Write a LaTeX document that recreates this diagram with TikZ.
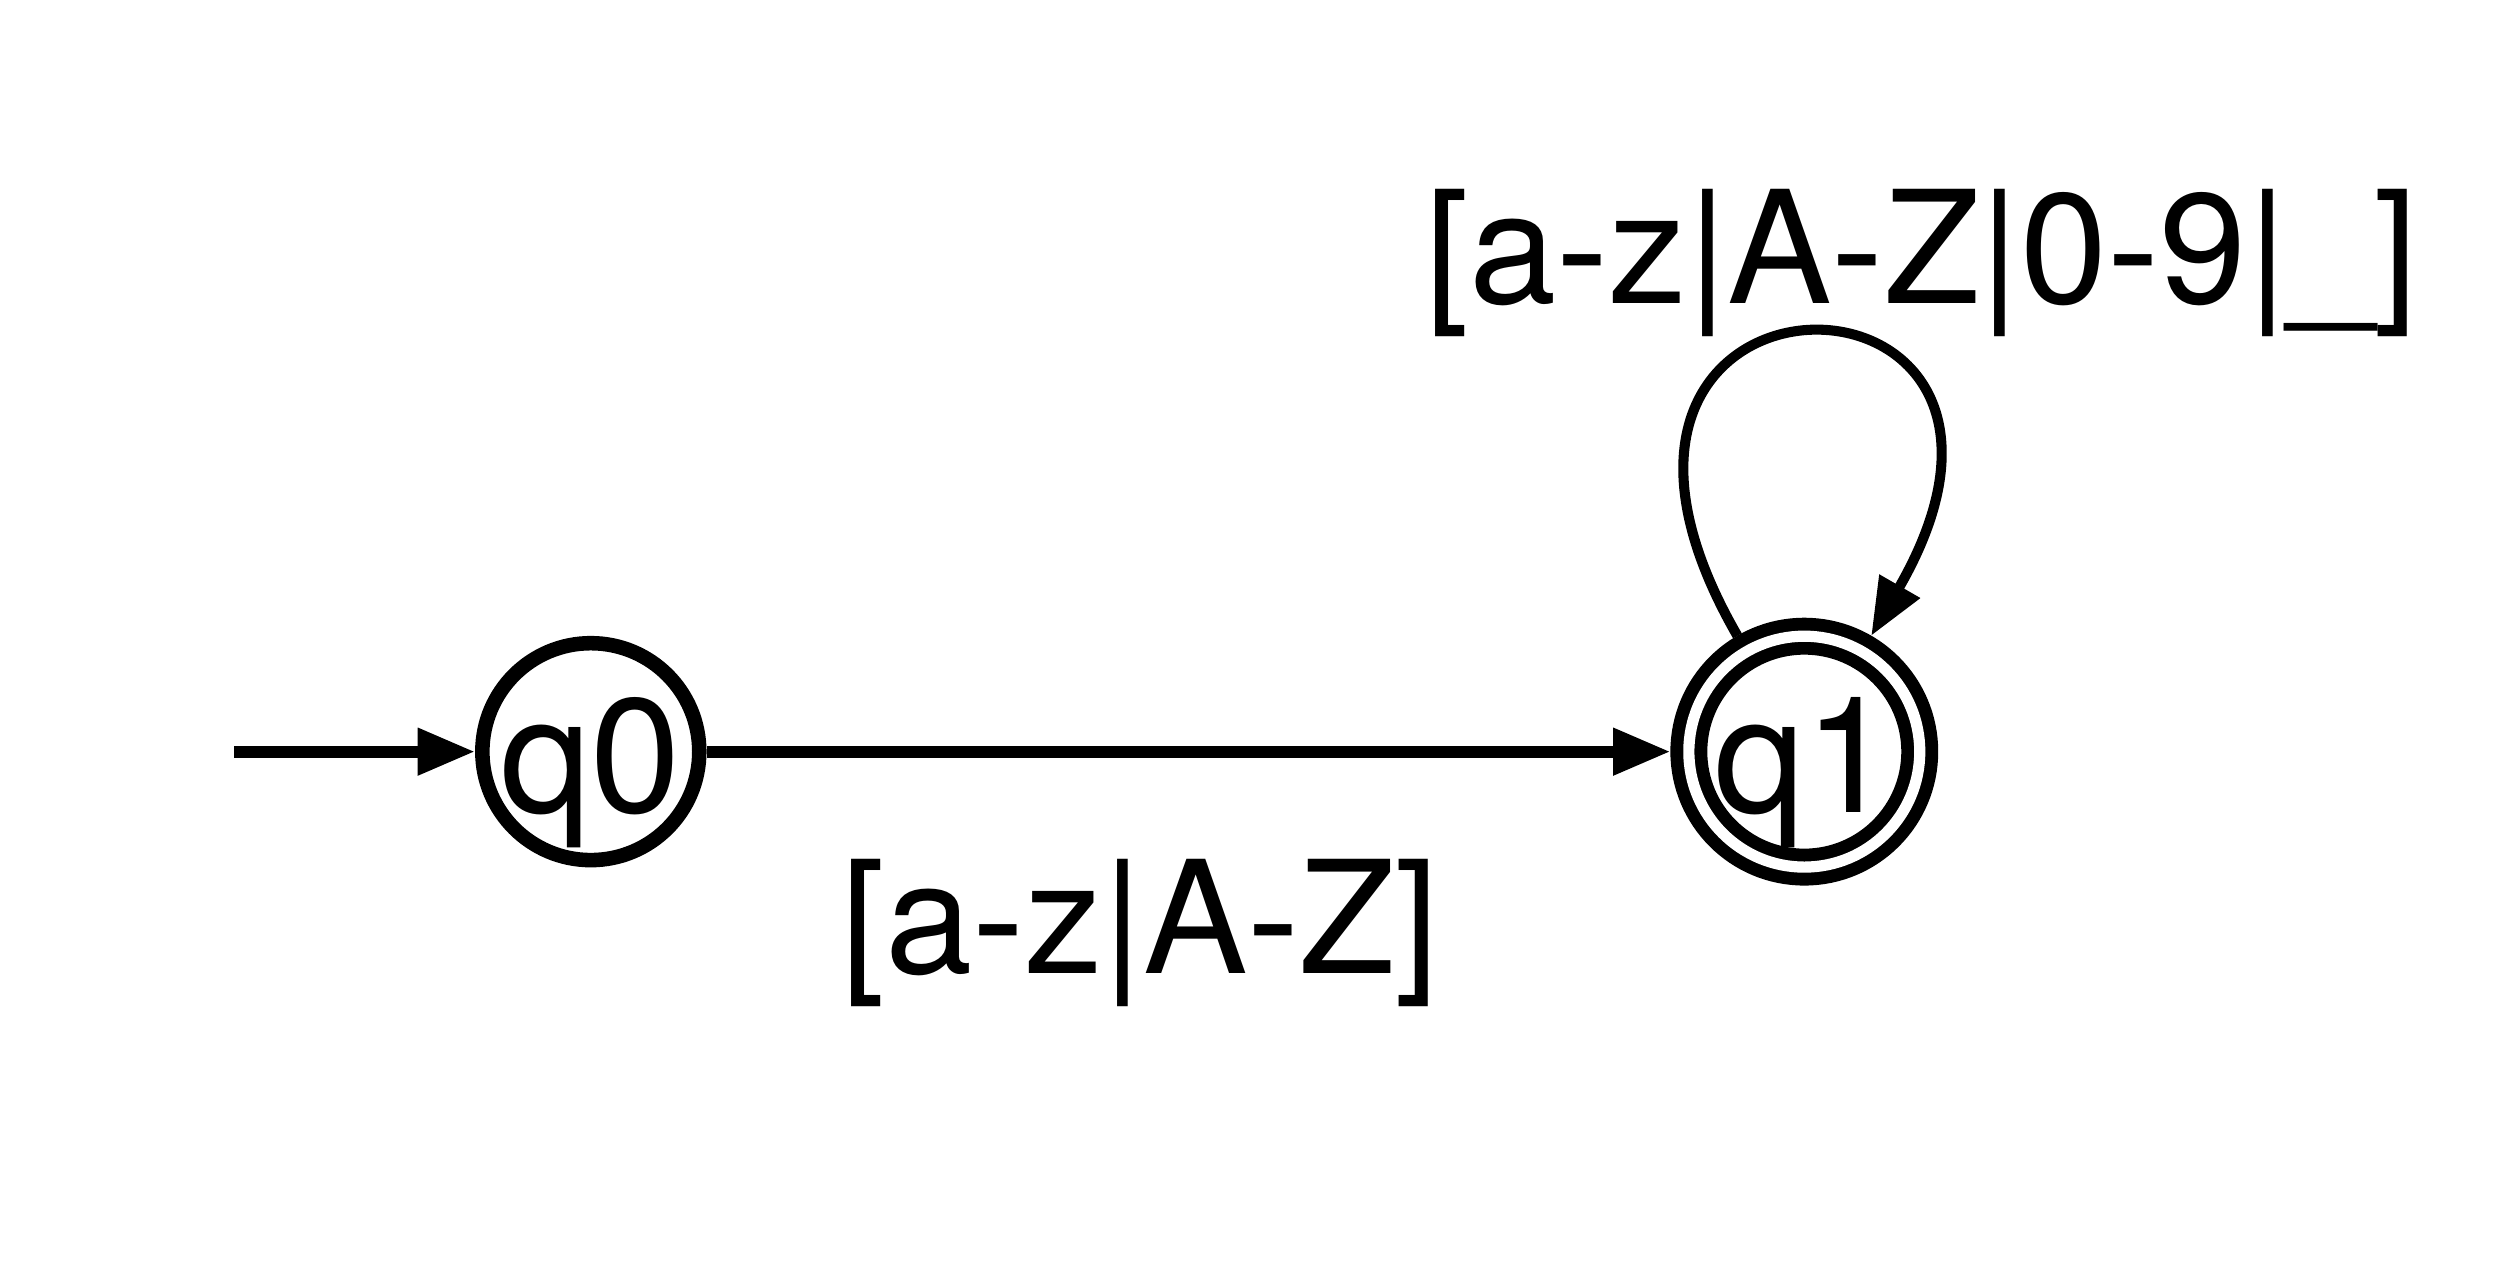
\documentclass[tikz,border=0pt]{standalone}
\usepackage{fontspec}
\setmainfont{TeX Gyre Heros}
\usetikzlibrary{arrows.meta}

\begin{document}
\begin{tikzpicture}[x=1cm,y=1cm,>={Triangle[length=3.6mm,width=2.8mm]},
  state/.style={circle,draw,inner sep=0pt,text height=0.76cm,text depth=0pt,
    font=\fontsize{29}{35}\selectfont},
  edgelabel/.style={inner sep=0pt,font=\fontsize{28}{34}\selectfont}]
  \useasboundingbox (0,0) rectangle (15.68,8.05);

  % States: q0 is the start, q1 accepts.
  \node[state,line width=2.6pt,minimum size=1.35cm] (q0) at (3.71,3.33) {q0};
  \node[state,line width=2.3pt,double,double distance=2pt,minimum size=1.45cm,
    outer sep=1.15mm] (q1) at (11.33,3.33) {q1};
  \coordinate (start) at (1.47,3.33);

  % Transitions.
  \draw[->,line width=2.1pt] (start) -- (q0);
  \draw[->,line width=2.1pt] (q0) -- (q1);
  \draw[->,line width=1.8pt] (q1.120) .. controls +(120:2.9) and +(60:2.9) .. (q1.60);

  \node[edgelabel] (lab01) at (7.16,2.19) {[a-z|A-Z]};
  \node[edgelabel] (lab11) at (12.07,6.40) {[a-z|A-Z|0-9|\_]};
\end{tikzpicture}
\end{document}
